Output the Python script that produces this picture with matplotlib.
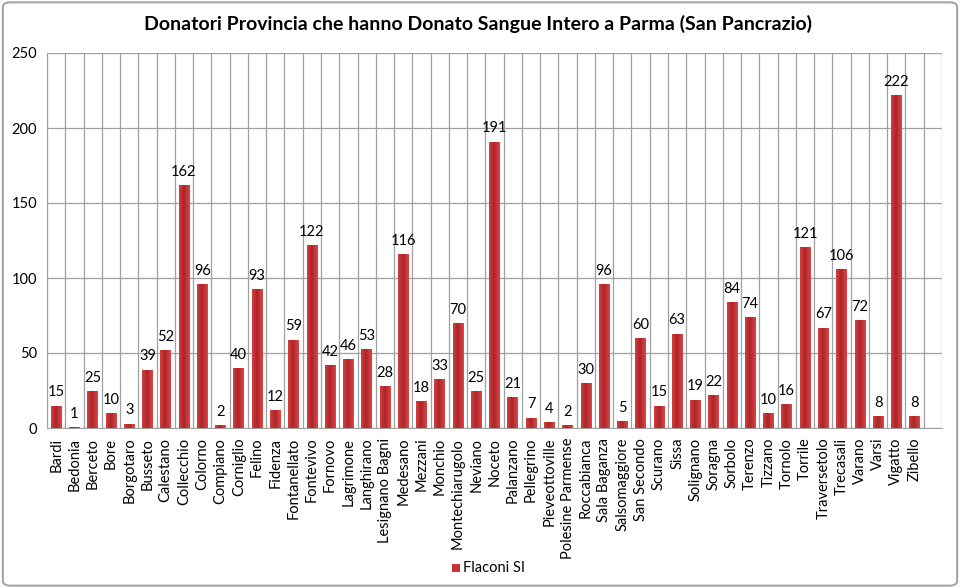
import matplotlib
matplotlib.use("Agg")
import matplotlib.pyplot as plt
import numpy as np
from matplotlib.patches import FancyBboxPatch, Rectangle
from matplotlib.colors import LinearSegmentedColormap

plt.rcParams['font.family'] = ['Lato', 'DejaVu Sans']

categories = ["Bardi", "Bedonia", "Berceto", "Bore", "Borgotaro", "Busseto", "Calestano",
              "Collecchio", "Colorno", "Compiano", "Corniglio", "Felino", "Fidenza",
              "Fontanellato", "Fontevivo", "Fornovo", "Lagrimone", "Langhirano",
              "Lesignano Bagni", "Medesano", "Mezzani", "Monchio", "Montechiarugolo",
              "Neviano", "Noceto", "Palanzano", "Pellegrino", "Pieveottoville",
              "Polesine Parmense", "Roccabianca", "Sala Baganza", "Salsomaggiore",
              "San Secondo", "Scurano", "Sissa", "Solignano", "Soragna", "Sorbolo",
              "Terenzo", "Tizzano", "Tornolo", "Torrile", "Traversetolo", "Trecasali",
              "Varano", "Varsi", "Vigatto", "Zibello"]
values = [15, 1, 25, 10, 3, 39, 52, 162, 96, 2, 40, 93, 12, 59, 122, 42, 46, 53, 28, 116,
          18, 33, 70, 25, 191, 21, 7, 4, 2, 30, 96, 5, 60, 15, 63, 19, 22, 84, 74, 10, 16,
          121, 67, 106, 72, 8, 222, 8]
series_name = "Flaconi SI"
yticks = [0, 50, 100, 150, 200, 250]

fig = plt.figure(figsize=(9.6, 5.88), dpi=100)
fig.patches.append(FancyBboxPatch((0.003, 0.004), 0.994, 0.992, boxstyle="round,pad=0,rounding_size=0.008",
                                  transform=fig.transFigure, fill=False, edgecolor="#A6A6A6", linewidth=1.5))

ax = fig.add_axes([47/960, (588-428)/588, 895/960, 375/588])
n = len(categories)
x = np.arange(n)
ax.set_xlim(-0.5, n + 0.5)
ax.set_ylim(0, 250)

for yv in yticks:
    ax.axhline(yv, color="#A0A0A0", lw=0.9, zorder=0)
for b in np.arange(-0.5, n + 1.0, 1.0):
    ax.axvline(b, color="#A0A0A0", lw=0.9, zorder=0)

bars = ax.bar(x, values, width=0.58, color="#C83232", zorder=2)
grad = np.linspace(0, 1, 64)
prof = np.abs(grad - 0.45) / 0.55
cmap = LinearSegmentedColormap.from_list("g", ["#AC2528", "#DC4644"])
img = np.vstack([prof, prof])
for rect in bars:
    x0, w, h = rect.get_x(), rect.get_width(), rect.get_height()
    if h <= 0:
        continue
    im = ax.imshow(img, cmap=cmap, aspect="auto", extent=[x0, x0 + w, 0, h], zorder=3,
                   interpolation="bilinear")
    im.set_clip_path(rect)

for xi, v in zip(x, values):
    ax.text(xi, v + 4, str(v), ha="center", va="bottom", fontsize=10.5, color="#000000", zorder=4)

ax.set_xticks(x)
ax.set_xticklabels(categories, rotation=90, fontsize=10.5)
ax.set_yticks(yticks)
ax.set_yticklabels([str(t) for t in yticks], fontsize=10.5)
ax.tick_params(length=0, pad=7)
for s in ax.spines.values():
    s.set_visible(False)
ax.spines['left'].set_visible(True)
ax.spines['left'].set_color("#A0A0A0")
ax.spines['bottom'].set_visible(True)
ax.spines['bottom'].set_color("#A0A0A0")

fig.text(478/960, 1 - 24/588, "Donatori Provincia che hanno Donato Sangue Intero a Parma (San Pancrazio)",
         ha="center", va="center", fontsize=14, fontweight="bold")

fig.patches.append(Rectangle((452/960, 1 - 572/588), 8/960, 8/588, transform=fig.transFigure,
                             facecolor="#C83232", edgecolor="none"))
fig.text(463/960, 1 - 568/588, series_name, ha="left", va="center", fontsize=10.5)

fig.savefig("out.png", dpi=100)
